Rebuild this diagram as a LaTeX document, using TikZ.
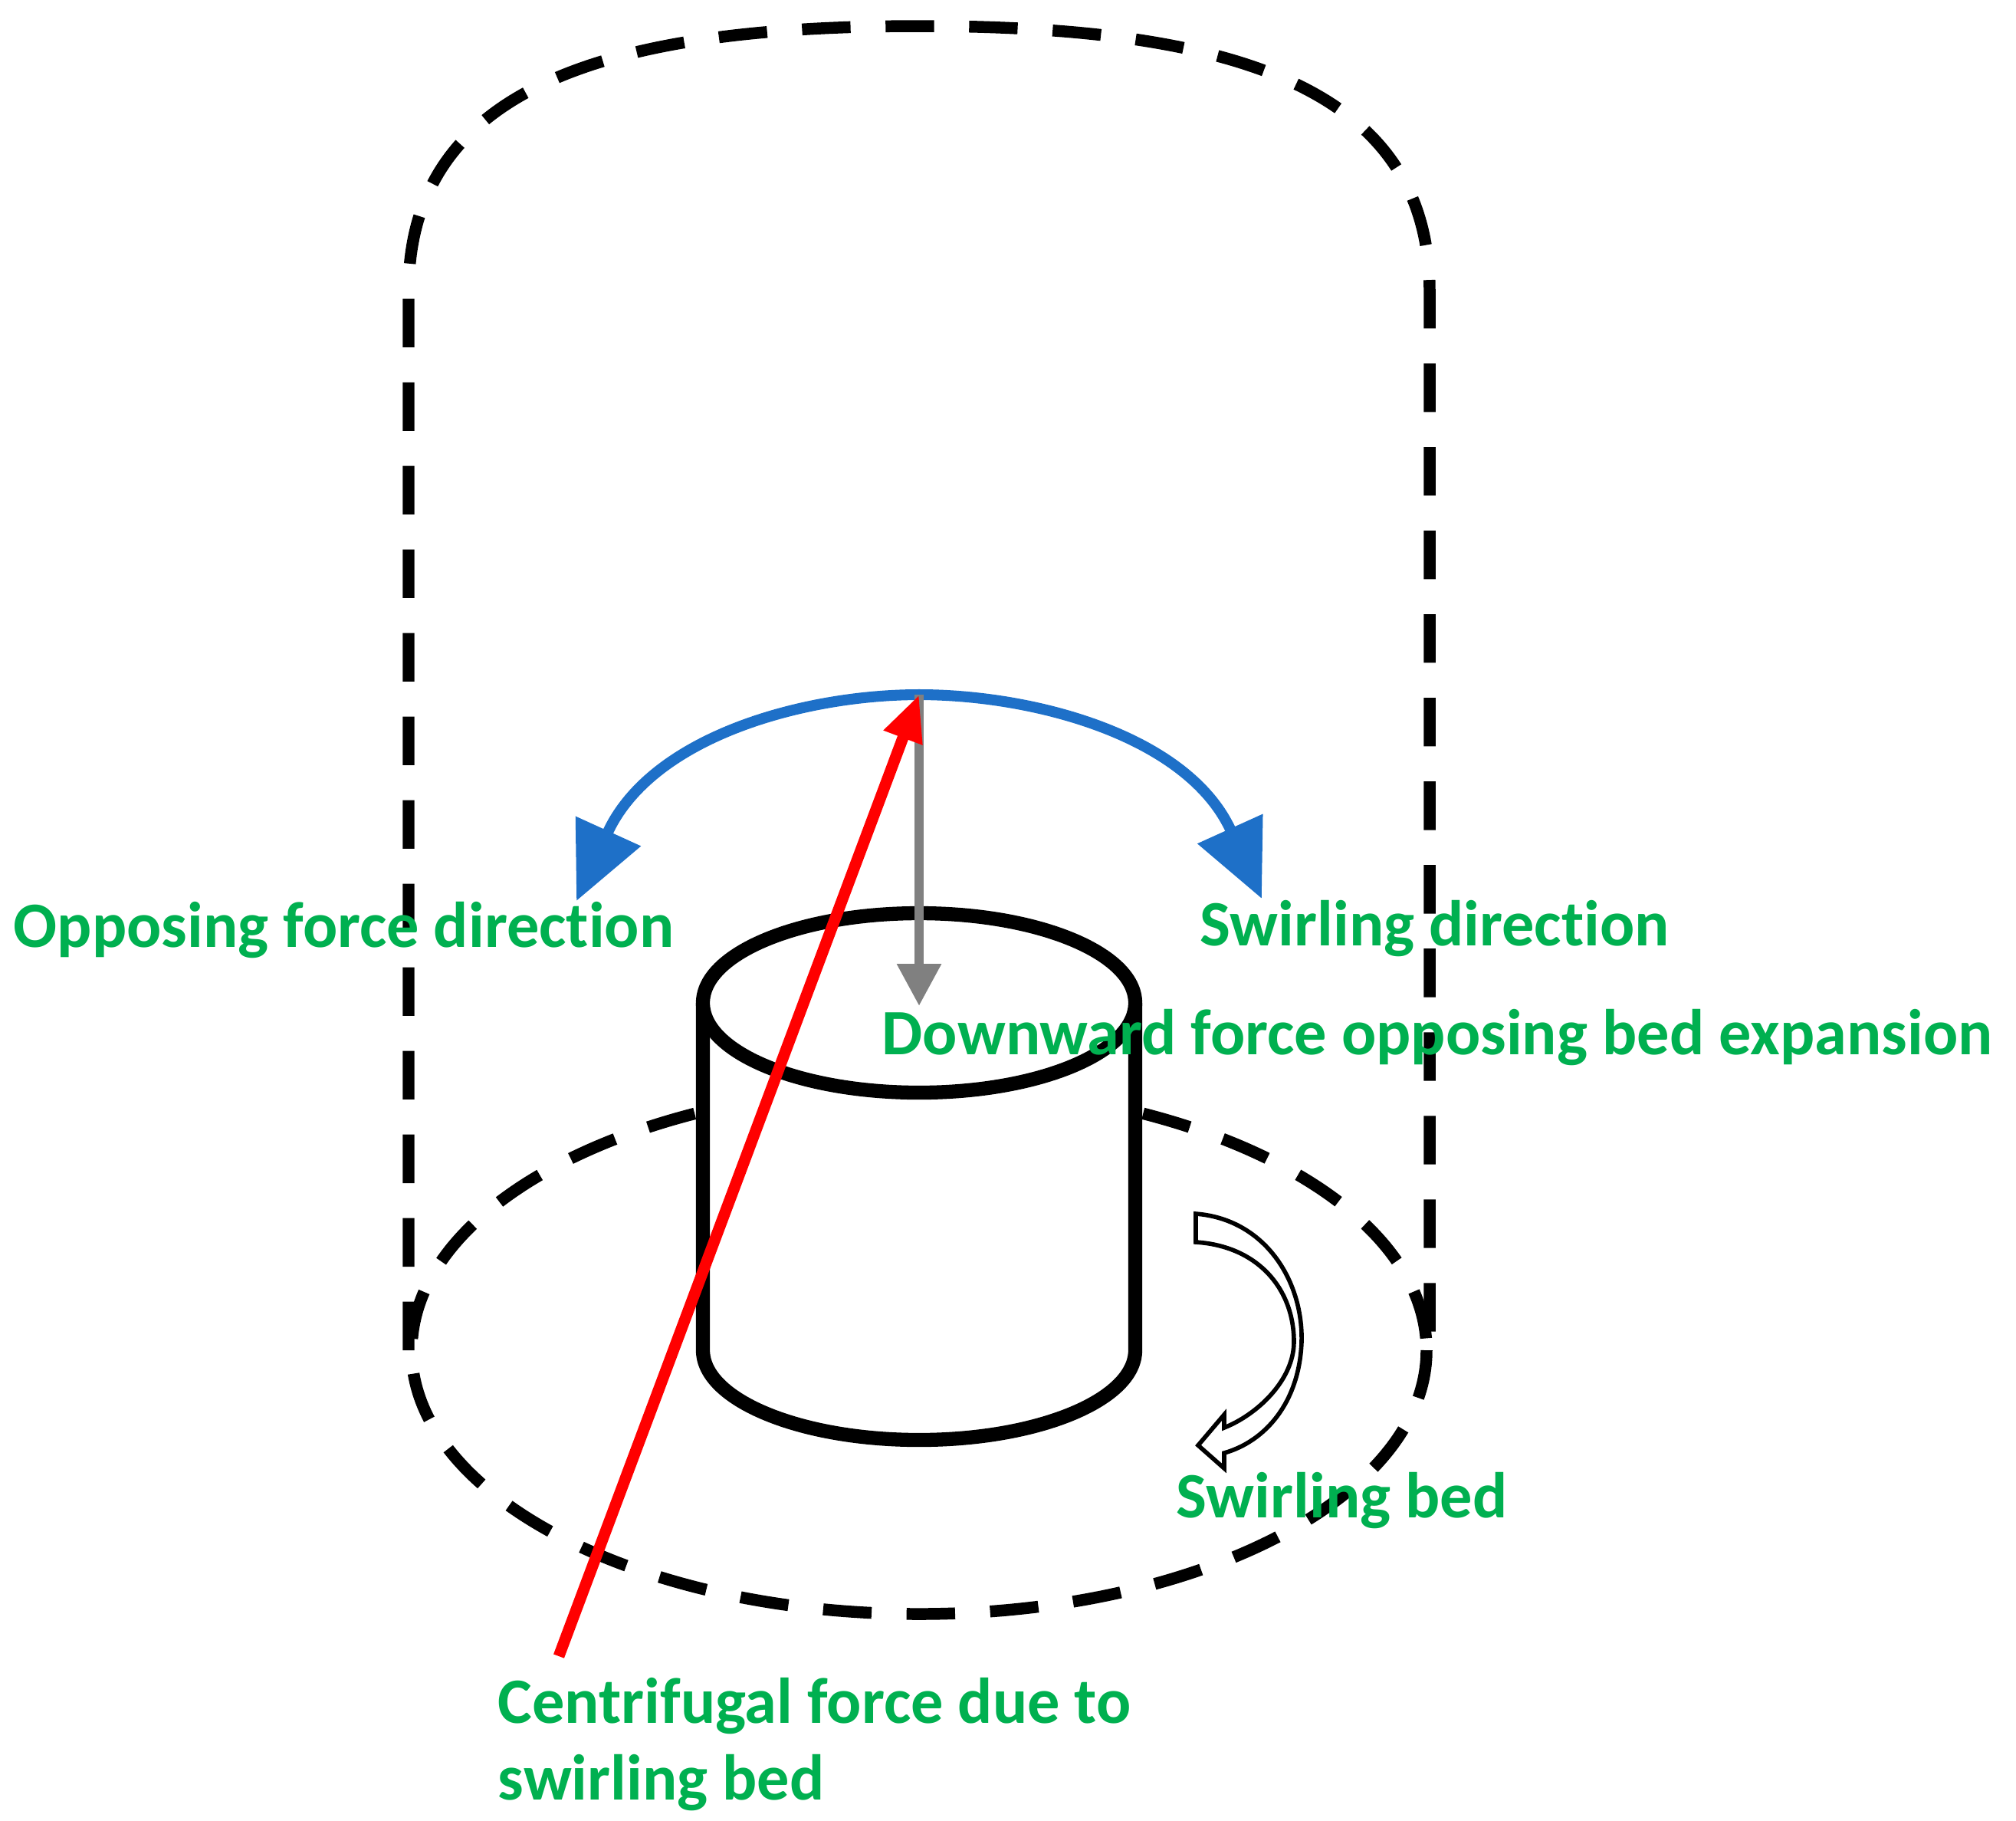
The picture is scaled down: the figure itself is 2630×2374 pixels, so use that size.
\documentclass[tikz,border=0pt]{standalone}
\usepackage{fontspec}
\setmainfont[RawFeature=-liga]{Carlito}
\usetikzlibrary{arrows.meta}
\definecolor{lblgreen}{RGB}{0,176,80}
\definecolor{arcblue}{RGB}{30,112,200}
\begin{document}
\begin{tikzpicture}[x=0.01cm,y=-0.01cm,
  dashline/.style={line width=4.4pt,dash pattern=on 18pt off 13pt},
  solidline/.style={line width=5.2pt},
  lbl/.style={text=lblgreen,font=\fontsize{24}{28}\selectfont\bfseries,anchor=west,inner sep=0pt}]
\path[use as bounding box,fill=white] (0,0) rectangle (2630,2374);
% outer column
\draw[dashline] (533,1761) -- (533,380) .. controls (533,110) and (800,34) .. (1199,34)
  .. controls (1600,34) and (1865,110) .. (1865,380) -- (1865,1761);
% bed ellipse
\draw[dashline] (1199,1761) ellipse [x radius=662,y radius=344];
% cylinder
\fill[white] (917,1308) -- (917,1761) arc[start angle=180,end angle=0,x radius=282,y radius=117] -- (1481,1308) -- cycle;
\draw[solidline] (917,1308) -- (917,1761) arc[start angle=180,end angle=0,x radius=282,y radius=117] -- (1481,1308);
\draw[solidline,fill=white] (1199,1308) ellipse [x radius=282,y radius=117];
% coordinates
\coordinate (top) at (1199,906);
\coordinate (lend) at (752,1175);
\coordinate (rend) at (1646,1172);
\coordinate (cyltop) at (1199,1312);
\coordinate (redstart) at (729,2160);
% blue arc
\draw[arcblue,line width=4pt,{Triangle[length=1cm,width=0.9cm]}-{Triangle[length=1cm,width=0.9cm]}]
  (lend) .. controls (850,960) and (1050,906) .. (top) .. controls (1350,906) and (1550,960) .. (rend);
% gray arrow
\draw[gray,line width=3.5pt,-{Triangle[length=0.55cm,width=0.55cm]}] (top) -- (cyltop);
% red arrow
\draw[red,line width=4.2pt,-{Triangle[length=0.6cm,width=0.5cm]}] (redstart) -- (top);
% swirl arrow
\draw[line width=1.6pt,fill=white] (1560,1583) .. controls (1650,1590) and (1700,1670) .. (1698,1750)
  .. controls (1695,1830) and (1650,1880) .. (1597,1895) -- (1597,1915) -- (1563,1885) -- (1597,1845)
  -- (1597,1862) .. controls (1640,1845) and (1688,1800) .. (1688,1750)
  .. controls (1688,1680) and (1640,1625) .. (1560,1620) -- cycle;
% labels
\node[lbl] (l1) at (17,1213) {Opposing force direction};
\node[lbl] (l2) at (1565,1211) {Swirling direction};
\node[lbl] (l3) at (1150,1353) {Downward force opposing bed expansion};
\node[lbl] (l4) at (1534,1957) {Swirling bed};
\node[lbl,align=left,font=\fontsize{24}{28.5}\selectfont\bfseries] (l5) at (649,2275) {Centrifugal force due to\\swirling bed};
\end{tikzpicture}
\end{document}
